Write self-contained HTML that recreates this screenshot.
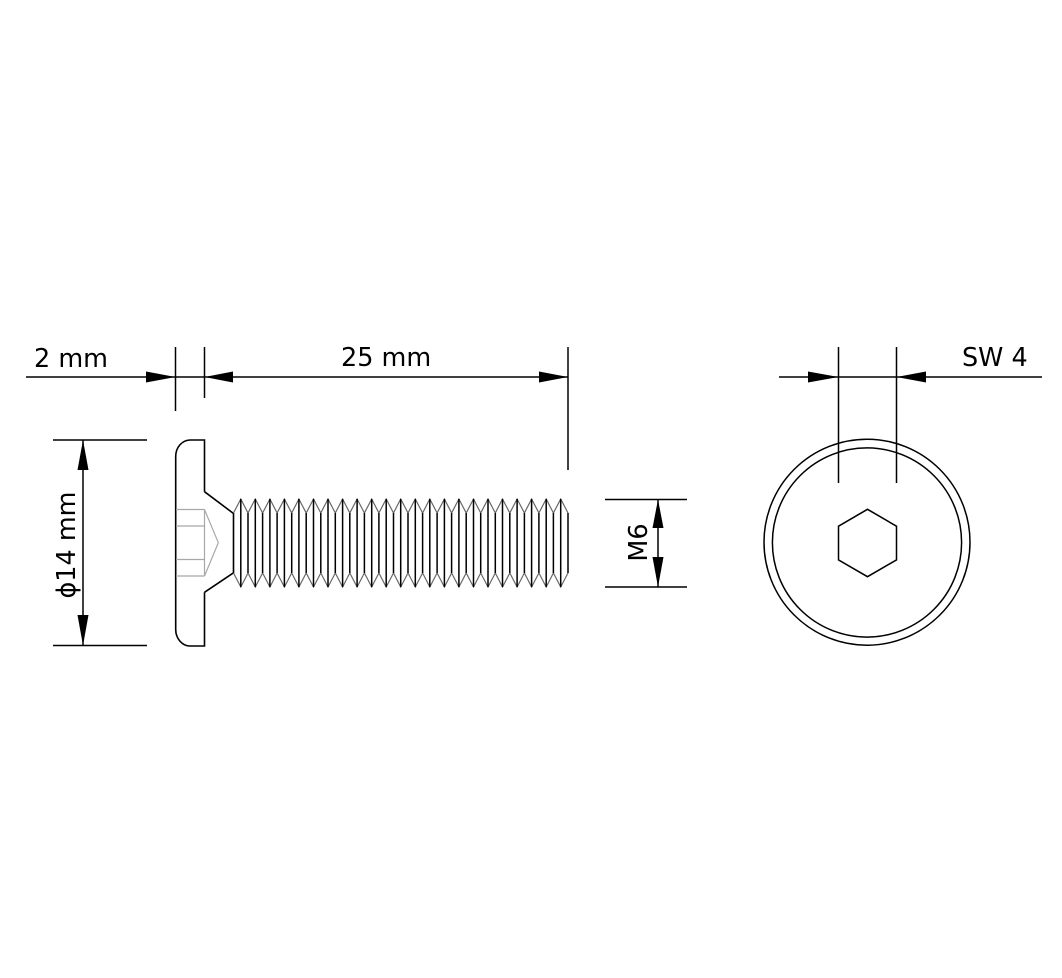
<!DOCTYPE html>
<html>
<head>
<meta charset="utf-8">
<style>
  html, body { margin: 0; padding: 0; background: #ffffff; }
  svg { display: block; }
  text { font-family: "DejaVu Sans", "Liberation Sans", sans-serif; font-size: 25.5px; fill: #000; }
</style>
</head>
<body>
<svg width="1062" height="978" viewBox="0 0 1062 978" xmlns="http://www.w3.org/2000/svg">
  <rect width="1062" height="978" fill="#ffffff"/>

  <!-- ===== Dimension lines (top) ===== -->
  <g stroke="#000" stroke-width="1.5" fill="none">
    <line x1="26" y1="377" x2="568" y2="377"/>
    <!-- extension lines -->
    <line x1="175.5" y1="347" x2="175.5" y2="411"/>
    <line x1="204.5" y1="347" x2="204.5" y2="398"/>
    <line x1="568" y1="347" x2="568" y2="470"/>
    <!-- phi14 dim -->
    <line x1="53" y1="440" x2="147" y2="440"/>
    <line x1="53" y1="645.5" x2="147" y2="645.5"/>
    <line x1="83" y1="440" x2="83" y2="645.5"/>
    <!-- M6 dim -->
    <line x1="605" y1="499.5" x2="687" y2="499.5"/>
    <line x1="605" y1="587" x2="687" y2="587"/>
    <line x1="658" y1="499.5" x2="658" y2="587"/>
    <!-- SW dim -->
    <line x1="779" y1="377" x2="1042" y2="377"/>
    <line x1="838.5" y1="347" x2="838.5" y2="483"/>
    <line x1="896.5" y1="347" x2="896.5" y2="483"/>
  </g>

  <!-- arrowheads -->
  <g fill="#000" stroke="none">
    <polygon points="175.5,377 146,371.5 146,382.5"/>
    <polygon points="204.5,377 233,371.5 233,382.5"/>
    <polygon points="568,377 539,371.5 539,382.5"/>
    <polygon points="83,440 77.5,470 88.5,470"/>
    <polygon points="83,645.5 77.5,615 88.5,615"/>
    <polygon points="658,499.5 652.5,528 663.5,528"/>
    <polygon points="658,587 652.5,557 663.5,557"/>
    <polygon points="838.5,377 808,371.5 808,382.5"/>
    <polygon points="896.5,377 926,371.5 926,382.5"/>
  </g>

  <!-- labels -->
  <text x="34" y="367">2 mm</text>
  <text x="341" y="366">25 mm</text>
  <text x="962" y="366">SW 4</text>
  <text transform="translate(75,545) rotate(-90)" text-anchor="middle">ϕ14 mm</text>
  <text transform="translate(647,542.5) rotate(-90)" text-anchor="middle">M6</text>

  <!-- ===== Screw side view ===== -->
  <!-- head -->
  <g stroke="#000" stroke-width="1.6" fill="none">
    <path d="M204.5,491.7 V440 H190 A14.5,16.5 0 0 0 175.7,456.5 V629.5 A14.5,16.5 0 0 0 190,646 H204.5 V592.3"/>
    <!-- countersink cone -->
    <path d="M204.5,491.7 L233.5,513.5 V572.8 L204.5,592.3"/>
  </g>
  <!-- hex socket (hidden, grey) -->
  <g stroke="#a8a8a8" stroke-width="1.2" fill="none">
    <line x1="176" y1="509.5" x2="204.5" y2="509.5"/>
    <line x1="176" y1="526" x2="204.5" y2="526"/>
    <line x1="176" y1="559.5" x2="204.5" y2="559.5"/>
    <line x1="176" y1="576" x2="204.5" y2="576"/>
    <line x1="204.5" y1="509.5" x2="204.5" y2="576"/>
    <polyline points="204.5,509.5 218.3,542.7 204.5,576"/>
  </g>

  <!-- threads: zigzag -->
  <g stroke="#666" stroke-width="1.2" fill="none">
    <polyline points="233.5,513 240.8,499 248,513 255.3,499 262.6,513 269.9,499 277.1,513 284.4,499 291.7,513 298.9,499 306.2,513 313.5,499 320.8,513 328,499 335.3,513 342.6,499 349.8,513 357.1,499 364.4,513 371.7,499 378.9,513 386.2,499 393.5,513 400.7,499 408,513 415.3,499 422.6,513 429.8,499 437.1,513 444.4,499 451.6,513 458.9,499 466.2,513 473.5,499 480.7,513 488,499 495.3,513 502.5,499 509.8,513 517.1,499 524.4,513 531.6,499 538.9,513 546.2,499 553.4,513 560.7,499 568,513"/>
    <polyline points="233.5,573 240.8,587 248,573 255.3,587 262.6,573 269.9,587 277.1,573 284.4,587 291.7,573 298.9,587 306.2,573 313.5,587 320.8,573 328,587 335.3,573 342.6,587 349.8,573 357.1,587 364.4,573 371.7,587 378.9,573 386.2,587 393.5,573 400.7,587 408,573 415.3,587 422.6,573 429.8,587 437.1,573 444.4,587 451.6,573 458.9,587 466.2,573 473.5,587 480.7,573 488,587 495.3,573 502.5,587 509.8,573 517.1,587 524.4,573 531.6,587 538.9,573 546.2,587 553.4,573 560.7,587 568,573"/>
  </g>
  <!-- threads: vertical lines -->
  <g stroke="#000" stroke-width="1.5" fill="none">
    <path d="M240.8,499V587 M255.3,499V587 M269.9,499V587 M284.4,499V587 M298.9,499V587 M313.5,499V587 M328,499V587 M342.6,499V587 M357.1,499V587 M371.7,499V587 M386.2,499V587 M400.7,499V587 M415.3,499V587 M429.8,499V587 M444.4,499V587 M458.9,499V587 M473.5,499V587 M488,499V587 M502.5,499V587 M517.1,499V587 M531.6,499V587 M546.2,499V587 M560.7,499V587"/>
    <path d="M248,513V573 M262.6,513V573 M277.1,513V573 M291.7,513V573 M306.2,513V573 M320.8,513V573 M335.3,513V573 M349.8,513V573 M364.4,513V573 M378.9,513V573 M393.5,513V573 M408,513V573 M422.6,513V573 M437.1,513V573 M451.6,513V573 M466.2,513V573 M480.7,513V573 M495.3,513V573 M509.8,513V573 M524.4,513V573 M538.9,513V573 M553.4,513V573 M568,513V573"/>
  </g>

  <!-- ===== End view ===== -->
  <g stroke="#000" stroke-width="1.5" fill="none">
    <circle cx="867" cy="542.2" r="103"/>
    <circle cx="867" cy="542.5" r="94.6"/>
    <polygon points="867.5,509.3 896.5,526.2 896.5,559.9 867.5,576.7 838.5,559.9 838.5,526.2"/>
  </g>
</svg>
</body>
</html>
